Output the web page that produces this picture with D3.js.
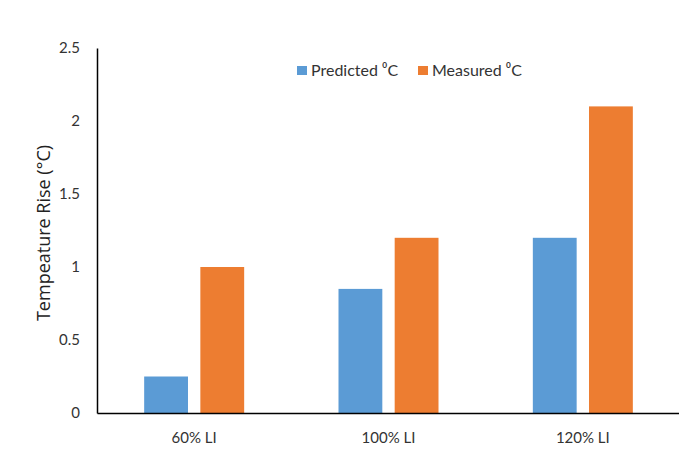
<!DOCTYPE html>
<html>
<head>
<meta charset="utf-8">
<script src="https://cdn.jsdelivr.net/npm/d3@7"></script>
<style>
  html, body { margin: 0; padding: 0; background: #fff; }
  svg { display: block; font-family: Lato, "Open Sans", sans-serif; }
</style>
</head>
<body>
<svg id="chart" width="679" height="451"></svg>
<script>
// Temperature rise by loading level
const categories = ["60% LI", "100% LI", "120% LI"];
const seriesNames = ["Predicted \u2070C", "Measured \u2070C"];
const predicted = [0.25, 0.85, 1.2];
const measured = [1.0, 1.2, 2.1];
const yTicks = [0, 0.5, 1, 1.5, 2, 2.5];
const colors = ["#5B9BD5", "#ED7D31"];

const svg = d3.select("#chart");
const plot = { left: 97, right: 680, top: 48, bottom: 413 };

const x = d3.scaleBand().domain(categories).range([plot.left, plot.right]).padding(0);
const xInner = d3.scaleBand().domain(seriesNames).range([-50, 50]).paddingInner(0.22);
const y = d3.scaleLinear().domain([0, 2.5]).range([plot.bottom, plot.top]);

const rows = categories.map((c, i) => ({ cat: c, vals: [predicted[i], measured[i]] }));

// Bars
const g = svg.append("g");
rows.forEach(r => {
  r.vals.forEach((v, j) => {
    const cx = x(r.cat) + x.bandwidth() / 2;
    g.append("rect")
      .attr("x", cx + xInner(seriesNames[j]))
      .attr("y", y(v))
      .attr("width", xInner.bandwidth())
      .attr("height", y(0) - y(v))
      .attr("fill", colors[j]);
  });
});

// Y axis
const yAxis = d3.axisLeft(y).tickValues(yTicks).tickSize(0).tickPadding(17)
  .tickFormat(d => d3.format("")(d));
const ya = svg.append("g").attr("transform", `translate(${plot.left},0)`).call(yAxis);
ya.select(".domain").attr("stroke", "#000").attr("stroke-width", 1.5);
ya.selectAll("text").attr("font-size", 15).attr("fill", "#333")
  .attr("font-family", "Lato, sans-serif");

// X axis
const xAxis = d3.axisBottom(x).tickSize(0).tickPadding(19);
const xa = svg.append("g").attr("transform", `translate(0,${plot.bottom})`).call(xAxis);
xa.select(".domain").attr("stroke", "#000").attr("stroke-width", 1.5);
xa.selectAll("text").attr("font-size", 15).attr("fill", "#333")
  .attr("font-family", "Lato, sans-serif");

// Y axis title
svg.append("text")
  .attr("transform", `translate(50,233) rotate(-90)`)
  .attr("text-anchor", "middle")
  .attr("font-family", "'Open Sans', sans-serif")
  .attr("font-size", 18)
  .attr("fill", "#222")
  .text("Tempeature Rise (\u00B0C)");

// Legend
const legendX = [297, 418];
seriesNames.forEach((name, j) => {
  const lg = svg.append("g").attr("transform", `translate(${legendX[j]},66)`);
  lg.append("rect").attr("width", 10).attr("height", 9).attr("fill", colors[j]);
  lg.append("text").attr("x", 14).attr("y", 9.5)
    .attr("font-size", 16).attr("fill", "#333").text(name);
});
</script>
</body>
</html>
